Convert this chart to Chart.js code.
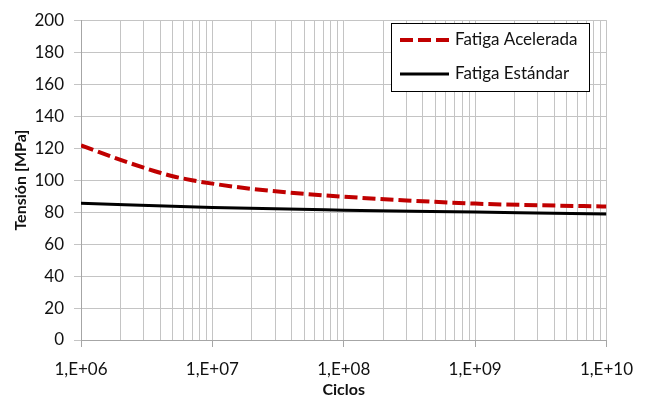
<!DOCTYPE html>
<html>
<head>
<meta charset="utf-8">
<script src="https://cdn.jsdelivr.net/npm/chart.js@4"></script>
<style>
  body { margin: 0; background: #fff; }
  #wrap { width: 645px; height: 399px; }
</style>
</head>
<body>
<div id="wrap"><canvas id="fatiga"></canvas></div>
<script>
// datos
const ciclosAcel = [1e6, 2e6, 3e6, 4e6, 5e6, 7e6, 1e7, 2e7, 5e7, 1e8, 3e8, 1e9, 3e9, 1e10];
const tensionAcel = [121.7, 112.6, 107.8, 104.6, 102.4, 99.9, 97.8, 94.5, 91.4, 89.6, 87.3, 85.3, 84.3, 83.5];
const ciclosEst = [1e6, 1e7, 1e8, 1e9, 1e10];
const tensionEst = [85.5, 82.8, 81.2, 80, 78.8];

const decadas = [1e6, 1e7, 1e8, 1e9, 1e10];
const etiquetasX = ["1,E+06", "1,E+07", "1,E+08", "1,E+09", "1,E+10"];
const seriesNombres = ["Fatiga Acelerada", "Fatiga Estándar"];

const FONT = "Lato, 'Open Sans', sans-serif";

// marcas del eje x: 1..9 por cada decada
function marcasLog() {
  let out = [];
  for (let d = 0; d < decadas.length - 1; d++) {
    for (let m = 1; m < 10; m++) out.push(decadas[d] * m);
  }
  out.push(decadas[decadas.length - 1]);
  return out;
}

// leyenda con caja dentro del area del grafico
const leyendaCaja = {
  id: "leyendaCaja",
  afterDraw(chart) {
    const ctx = chart.ctx;
    const x = 391, y = 23, w = 198, h = 68;
    ctx.save();
    ctx.fillStyle = "#fff";
    ctx.fillRect(x, y, w, h);
    ctx.strokeStyle = "#000";
    ctx.lineWidth = 1;
    ctx.strokeRect(x + 0.5, y + 0.5, w, h);
    chart.data.datasets.forEach((ds, i) => {
      const ly = y + 17 + i * 34;
      ctx.beginPath();
      ctx.strokeStyle = ds.borderColor;
      ctx.lineWidth = ds.borderWidth;
      ctx.setLineDash(ds.borderDash || []);
      ctx.moveTo(400, ly);
      ctx.lineTo(449, ly);
      ctx.stroke();
      ctx.setLineDash([]);
      ctx.fillStyle = "#111";
      ctx.font = "17px " + FONT;
      ctx.textBaseline = "middle";
      ctx.fillText(ds.label, 455, ly);
    });
    ctx.restore();
  }
};

new Chart("fatiga", {
  type: "line",
  data: {
    datasets: [{
      label: seriesNombres[0],
      data: ciclosAcel.map((c, i) => ({x: c, y: tensionAcel[i]})),
      borderColor: "#C00000",
      borderWidth: 4,
      borderDash: [13, 5],
      pointRadius: 0,
      cubicInterpolationMode: "monotone",
      fill: false
    }, {
      label: seriesNombres[1],
      data: ciclosEst.map((c, i) => ({x: c, y: tensionEst[i]})),
      borderColor: "#000",
      borderWidth: 3,
      pointRadius: 0,
      cubicInterpolationMode: "monotone",
      fill: false
    }]
  },
  options: {
    responsive: true,
    maintainAspectRatio: false,
    animation: false,
    layout: { padding: { top: 15, right: 38, left: 0, bottom: 0 } },
    plugins: {
      legend: { display: false },
      tooltip: { enabled: false }
    },
    scales: {
      x: {
        type: "logarithmic",
        min: 1e6,
        max: 1e10,
        afterBuildTicks(scale) {
          scale.ticks = marcasLog().map(v => ({ value: v }));
        },
        afterFit(scale) { scale.height = 59; },
        ticks: {
          autoSkip: false,
          maxRotation: 0,
          padding: 12,
          color: "#111",
          font: { family: FONT, size: 17 },
          callback(value) {
            const i = decadas.indexOf(value);
            return i >= 0 ? etiquetasX[i] : "";
          }
        },
        grid: {
          color: "#c4c4c4",
          tickLength: 7,
          tickColor(ctx) {
            return decadas.indexOf(ctx.tick.value) >= 0 ? "#a6a6a6" : "rgba(0,0,0,0)";
          }
        },
        border: { color: "#a6a6a6" },
        title: {
          display: true,
          text: "Ciclos",
          color: "#111",
          font: { family: FONT, size: 16, weight: "bold" },
          padding: { top: 0, bottom: 0 }
        }
      },
      y: {
        min: 0,
        max: 200,
        afterFit(scale) { scale.width = 81; },
        ticks: {
          stepSize: 20,
          padding: 10,
          color: "#111",
          font: { family: FONT, size: 17 }
        },
        grid: { color: "#c4c4c4", tickLength: 7 },
        border: { color: "#a6a6a6" },
        title: {
          display: true,
          text: "Tensión [MPa]",
          color: "#111",
          font: { family: FONT, size: 16, weight: "bold" },
          padding: { top: 11, bottom: 0 }
        }
      }
    }
  },
  plugins: [leyendaCaja]
});
</script>
</body>
</html>
